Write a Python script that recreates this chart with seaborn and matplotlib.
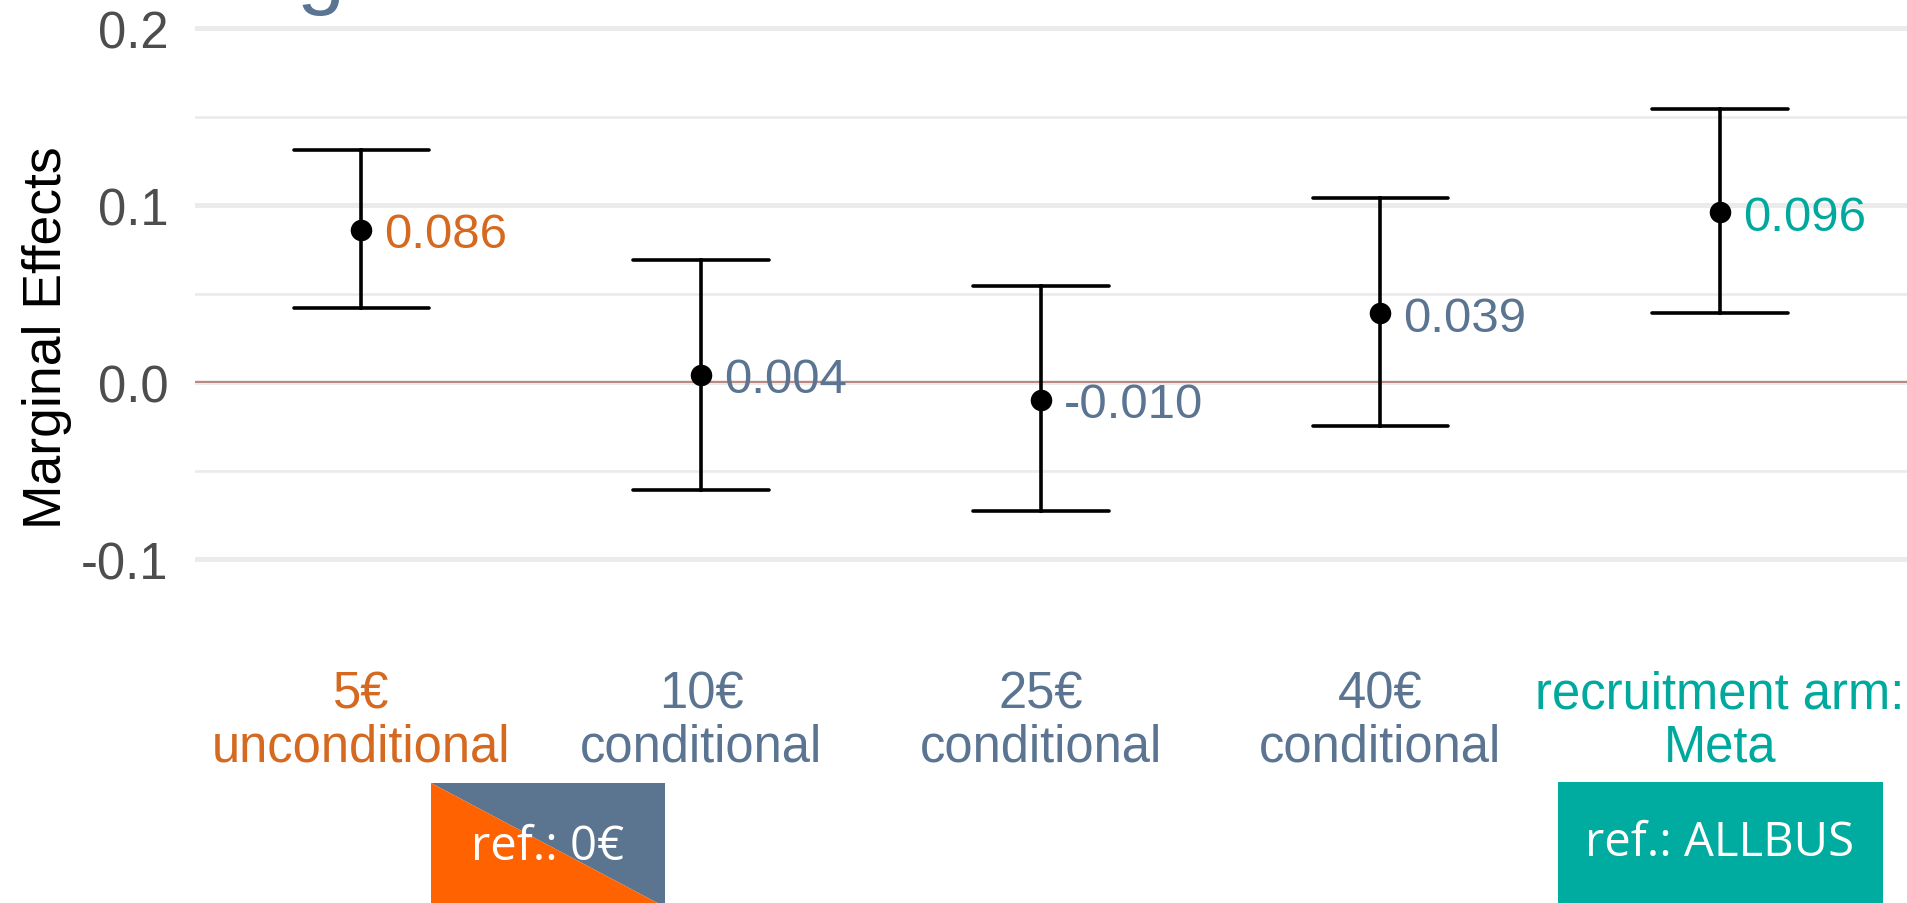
import numpy as np
import pandas as pd
import seaborn as sns
import matplotlib.pyplot as plt
from matplotlib.patches import Polygon, Rectangle

# values
labels = ["5€\nunconditional", "10€\nconditional", "25€\nconditional",
          "40€\nconditional", "recruitment arm:\nMeta"]
est = [0.086, 0.004, -0.010, 0.039, 0.096]
lo = [0.042, -0.061, -0.073, -0.025, 0.039]
hi = [0.131, 0.069, 0.054, 0.104, 0.154]
label_cols = ["#D5691F", "#5A7491", "#5A7491", "#5A7491", "#00A99D"]

sns.set_style("white")
plt.rcParams['font.family'] = ['Liberation Sans', 'DejaVu Sans']
plt.rcParams['axes.unicode_minus'] = False

W, H = 1907, 904
fig = plt.figure(figsize=(W / 100, H / 100), dpi=100)
ax = fig.add_axes([195 / W, 1 - 625 / H, 1712 / W, 625 / H])

# lo / est / hi per group -> median = estimate, 100% interval = CI
df = pd.DataFrame({
    "grp": np.repeat(labels, 3),
    "val": np.column_stack([lo, est, hi]).ravel(),
})
sns.pointplot(data=df, x="grp", y="val", order=labels, estimator="median",
              errorbar=("pi", 100), capsize=0.4, color="black",
              linestyle="none", markersize=15.5, markeredgewidth=0,
              err_kws={"linewidth": 2.6}, ax=ax)

for i, (v, c) in enumerate(zip(est, label_cols)):
    ax.text(i + 0.068, v, f"{v:.3f}", color=c, fontsize=35.5,
            ha="left", va="center_baseline")

ax.axhline(0, color="#A8605A", lw=1.2, alpha=0.85, zorder=1.5)
ax.set_yticks([-0.1, 0.0, 0.1, 0.2])
ax.set_yticklabels(["-0.1", "0.0", "0.1", "0.2"])
ax.set_yticks([-0.05, 0.05, 0.15], minor=True)
ax.grid(axis="y", which="major", color="#EBEBEB", lw=3.6)
ax.grid(axis="y", which="minor", color="#EBEBEB", lw=1.9)
ax.set_axisbelow(True)
ax.set_xlim(-0.49, 4.55)
ax.set_ylim(-0.1367, 0.2164)
for s in ax.spines.values():
    s.set_visible(False)

ax.tick_params(axis="both", which="both", length=0, labelsize=36.5,
               labelcolor="#4D4D4D")
ax.tick_params(axis="y", pad=19)
ax.tick_params(axis="x", pad=33)
ax.set_xticks(range(len(labels)))
ax.set_xticklabels(labels, linespacing=1.1)
for t, c in zip(ax.get_xticklabels(), label_cols):
    t.set_color(c)

ax.set_xlabel("")
ax.set_ylabel("Marginal Effects", fontsize=38.5, color="black")
ax.yaxis.set_label_coords(-0.0718, 0.459)

# cut-off title fragment at the top
fig.text(296 / W, 1.0 + 2 / H, "g", fontsize=62, color="#5A7491",
         ha="left", va="baseline")


def fp(x, y):
    return (x / W, 1 - y / H)


# reference boxes under the x labels
fig.patches.append(Polygon([fp(431, 784), fp(665, 784), fp(665, 908)],
                           closed=True, fc="#5B7490", ec="none",
                           transform=fig.transFigure))
fig.patches.append(Polygon([fp(431, 784), fp(431, 908), fp(665, 908)],
                           closed=True, fc="#FF6200", ec="none",
                           transform=fig.transFigure))
fig.patches.append(Rectangle(fp(1558, 904), 325 / W, 121 / H,
                             fc="#00AB9F", ec="none",
                             transform=fig.transFigure))
fig.text(*fp(548, 847), "ref.: 0€", color="white", fontsize=34,
         family=["Open Sans", "DejaVu Sans"], ha="center", va="center")
fig.text(*fp(1720, 843), "ref.: ALLBUS", color="white", fontsize=34,
         family=["Open Sans", "DejaVu Sans"], ha="center", va="center")

fig.savefig("out.png", dpi=100)
